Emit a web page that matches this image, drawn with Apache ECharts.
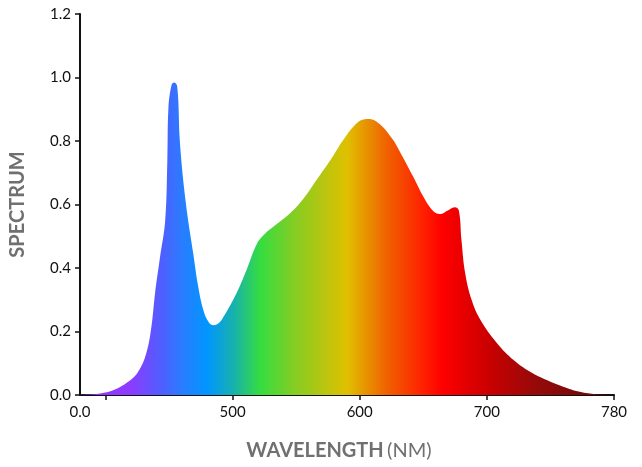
<!DOCTYPE html>
<html>
<head>
<meta charset="utf-8">
<script src="https://cdn.jsdelivr.net/npm/echarts@6/dist/echarts.min.js"></script>
<style>
html,body{margin:0;padding:0;background:#fff;}
#chart{width:642px;height:467px;}
</style>
</head>
<body>
<div id="chart"></div>
<script>
// Wavelength (nm) and relative spectrum values
const wavelengths = [380,390,396,406,419,426,432,436,439,443,447,448.7,449.5,452,454,456.5,458.7,463.4,469,473,477,481,485,489,493,503,511,519,526,532,545,556,566,577,587,596,603,607,616,626,629,642,650,657,663,670,675,678,680,683,688,695,708,721,734,747,760,773,786,800];
const spectrum = [0,0.002,0.005,0.015,0.045,0.075,0.13,0.21,0.32,0.436,0.55,0.74,0.9,0.976,0.984,0.971,0.79,0.6,0.447,0.341,0.268,0.231,0.22,0.226,0.247,0.32,0.394,0.475,0.51,0.53,0.572,0.62,0.677,0.74,0.803,0.85,0.868,0.869,0.852,0.805,0.785,0.688,0.625,0.583,0.57,0.583,0.591,0.58,0.49,0.383,0.3,0.236,0.163,0.11,0.073,0.047,0.026,0.01,0.002,0];
const xTickValues = [400,500,600,700,800];
const xLabelValues = [380,500,600,700,800];
const xLabelText = {380:'0.0',500:'500',600:'600',700:'700',800:'780'};
// colour of the fill by wavelength
const colorNm = [380,420,445,460,480,500,522,550,590,622,650,665,700,740,790];
const colorHex = ['#9a30ff','#8c3cff','#4d60ff','#2a7cff','#0096ff','#16b0b0','#36dd40','#88cc22','#e0c000','#f06000','#ff2000','#ff0000','#cc0000','#940a0a','#6e0808'];

const lo = wavelengths[0], hi = wavelengths[wavelengths.length-1];
const stops = colorNm.map((nm,i)=>({offset:Math.min(1,Math.max(0,(nm-lo)/(hi-lo))),color:colorHex[i]}));

const chart = echarts.init(document.getElementById('chart'));
const font = 'Lato, "Open Sans", sans-serif';
chart.setOption({
  animation:false,
  grid:{left:80,right:28,top:14,bottom:72,containLabel:false},
  xAxis:{
    type:'value',min:380,max:800,
    name:'{b|WAVELENGTH} {n|(NM)}',
    nameLocation:'middle',nameGap:46,
    nameTextStyle:{padding:[0,16,0,0],rich:{
      b:{fontFamily:font,fontWeight:'bold',fontSize:20,color:'#707070'},
      n:{fontFamily:font,fontWeight:'normal',fontSize:20,color:'#707070'}
    }},
    axisLine:{show:true,lineStyle:{color:'#111',width:2}},
    axisTick:{show:true,length:5,lineStyle:{color:'#111',width:1.5},customValues:xTickValues},
    axisLabel:{customValues:xLabelValues,formatter:v=>xLabelText[v]!==undefined?xLabelText[v]:'',
      fontFamily:font,fontSize:15,color:'#111',margin:10},
    splitLine:{show:false}
  },
  yAxis:{
    type:'value',min:0,max:1.2,interval:0.2,
    name:'SPECTRUM',nameLocation:'middle',nameRotate:90,nameGap:52,
    nameTextStyle:{fontFamily:font,fontWeight:'bold',fontSize:20,color:'#707070'},
    axisLine:{show:true,lineStyle:{color:'#111',width:2}},
    axisTick:{show:true,length:5,lineStyle:{color:'#111',width:1.5}},
    axisLabel:{formatter:v=>v.toFixed(1),fontFamily:font,fontSize:15,color:'#111',margin:9},
    splitLine:{show:false}
  },
  series:[{
    type:'line',
    data:wavelengths.map((w,i)=>[w,spectrum[i]]),
    smooth:0.4,
    showSymbol:false,
    lineStyle:{width:0},
    areaStyle:{opacity:1,color:{type:'linear',x:0,y:0,x2:1,y2:0,colorStops:stops}},
    z:1
  }]
});
</script>
</body>
</html>
